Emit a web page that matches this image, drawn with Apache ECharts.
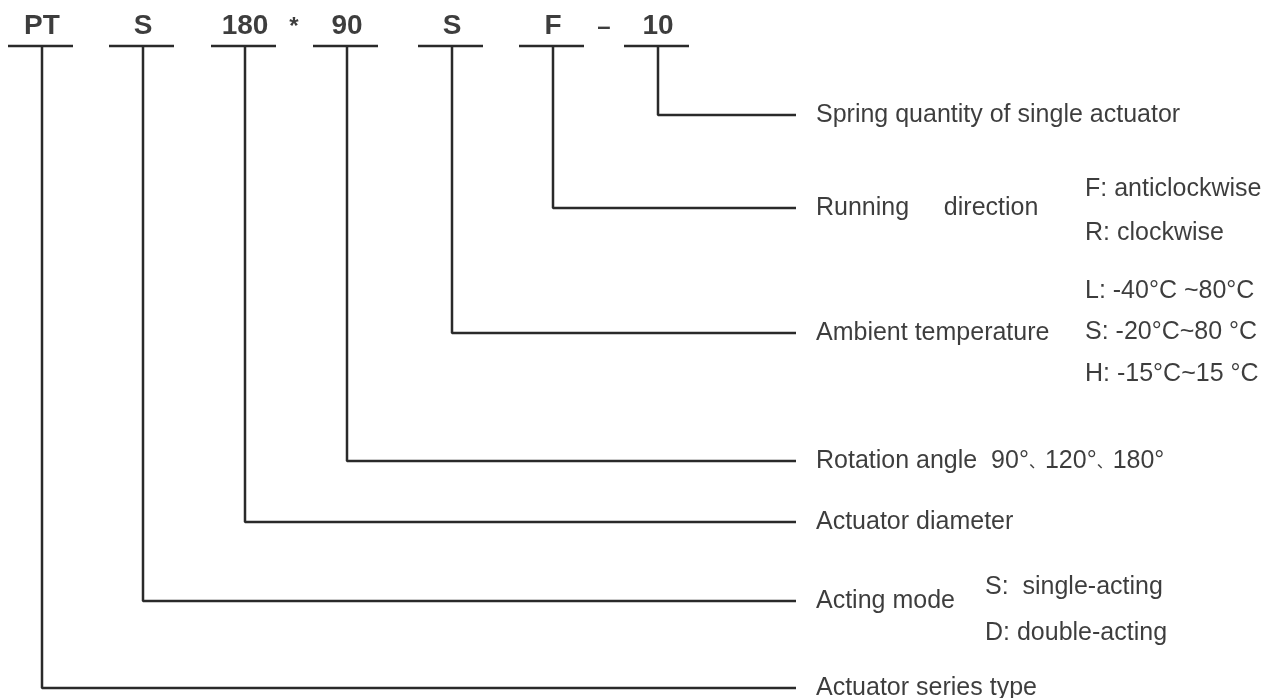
<!DOCTYPE html>
<html>
<head>
<meta charset="utf-8">
<style>
  html, body { margin: 0; padding: 0; background: #fff; }
  #chart { width: 1278px; height: 698px; }
</style>
<script src="https://cdn.jsdelivr.net/npm/echarts@6/dist/echarts.min.js"></script>
</head>
<body>
<div id="chart"></div>
<script>
// model code segments, left to right
var codes = ["PT", "S", "180", "90", "S", "F", "10"];
var codeX = [42, 143, 245, 347, 452, 553, 658];
var separators = ["*", "–"];
var separatorX = [294, 604];

// one leader per code segment (same order as codes)
var leaderY = [688, 601, 522, 461, 333, 208, 115];
var leaderText = [
  "Actuator series type",
  "Acting mode",
  "Actuator diameter",
  "Rotation angle  90°{s|、}120°{s|、}180°",
  "Ambient temperature",
  "Running     direction",
  "Spring quantity of single actuator"
];

// option lists to the right of some leaders
var actingModes = ["S:  single-acting", "D: double-acting"];
var actingY = [587, 633];
var tempRanges = ["L: -40°C ~80°C", "S: -20°C~80 °C", "H: -15°C~15 °C"];
var tempY = [291, 332, 374];
var directions = ["F: anticlockwise", "R: clockwise"];
var directionY = [189, 233];

var underlineY = 46;
var leaderEnd = 796;
var labelX = 816;
var lineColor = "#2a2a2a";
var textColor = "#0d0d0d";
var font = "'Liberation Sans', Arial, 'Noto Sans CJK SC', sans-serif";

var series = [];

codes.forEach(function (c, i) {
  // underline under the code
  series.push({
    type: "line",
    silent: true,
    symbol: "none",
    lineStyle: { color: lineColor, width: 2.5 },
    data: [[codeX[i] - 34, underlineY], [codeX[i] + 31, underlineY]]
  });
  // leader: down then right
  series.push({
    type: "line",
    silent: true,
    symbol: "none",
    lineStyle: { color: lineColor, width: 2.5 },
    data: [[codeX[i], underlineY], [codeX[i], leaderY[i]], [leaderEnd, leaderY[i]]]
  });
});

function textSeries(points, opts) {
  return {
    type: "scatter",
    silent: true,
    symbolSize: 0,
    data: points,
    label: Object.assign({
      show: true,
      position: "right",
      distance: 0,
      color: textColor,
      fontFamily: font,
      fontSize: 25,
      formatter: function (p) { return p.data[2]; },
      rich: {
        s: { fontSize: 16, color: textColor, fontFamily: "'Noto Sans CJK SC', sans-serif" }
      }
    }, opts || {})
  };
}

series.push(textSeries(codes.map(function (c, i) { return [codeX[i], 26, c]; }),
  { position: "inside", fontSize: 28, fontWeight: "bold" }));
series.push(textSeries(separators.map(function (c, i) { return [separatorX[i], 27, c]; }),
  { position: "inside", fontSize: 24, fontWeight: "bold" }));
series.push(textSeries(leaderText.map(function (t, i) { return [labelX, leaderY[i], t]; })));
series.push(textSeries(actingModes.map(function (t, i) { return [985, actingY[i], t]; })));
series.push(textSeries(tempRanges.map(function (t, i) { return [1085, tempY[i], t]; })));
series.push(textSeries(directions.map(function (t, i) { return [1085, directionY[i], t]; })));

var chart = echarts.init(document.getElementById("chart"));
chart.setOption({
  animation: false,
  backgroundColor: "#fff",
  grid: { left: 0, right: 0, top: 0, bottom: 0 },
  xAxis: { type: "value", min: 0, max: 1278, show: false },
  yAxis: { type: "value", min: 0, max: 698, inverse: true, show: false },
  series: series
});
</script>
</body>
</html>
